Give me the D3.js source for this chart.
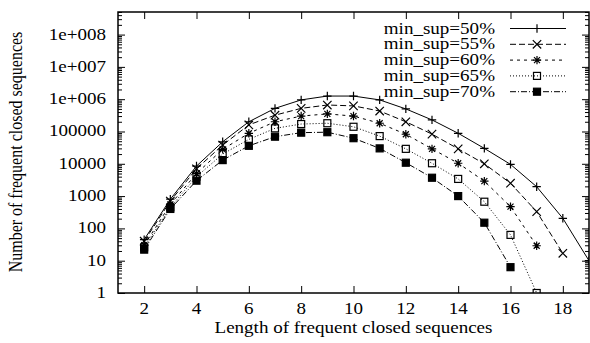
<!DOCTYPE html>
<html>
<head>
<meta charset="utf-8">
<script src="https://cdn.jsdelivr.net/npm/d3@7"></script>
<style>
  body { margin: 0; background: #fff; }
  svg { display: block; }
</style>
</head>
<body>
<div id="vis"></div>
<script>
// lengths of frequent closed sequences
const lengths = [2, 3, 4, 5, 6, 7, 8, 9, 10, 11, 12, 13, 14, 15, 16, 17, 18, 19];

// number of frequent closed sequences, one array per min_sup
const sup50 = [45, 800, 8500, 48000, 200000, 520000, 950000, 1250000, 1250000, 950000, 500000, 228000, 88000, 30000, 9600, 1950, 205, 10];
const sup55 = [40, 700, 7000, 38000, 160000, 320000, 520000, 660000, 620000, 430000, 200000, 83000, 29000, 10000, 2500, 330, 17];
const sup60 = [30, 550, 5000, 28000, 88000, 200000, 300000, 350000, 300000, 180000, 82000, 29000, 10400, 2900, 470, 29];
const sup65 = [26, 450, 4000, 20000, 57000, 125000, 170000, 180000, 140000, 72000, 29000, 10400, 3400, 670, 63, 1];
const sup70 = [22, 400, 3000, 13000, 36000, 69000, 92000, 95000, 62000, 30000, 10800, 3700, 1000, 150, 6.3];

const seriesNames = ["min_sup=50%", "min_sup=55%", "min_sup=60%", "min_sup=65%", "min_sup=70%"];
const seriesValues = [sup50, sup55, sup60, sup65, sup70];

const xTicks = [2, 4, 6, 8, 10, 12, 14, 16, 18];
const yTicks = [1, 10, 100, 1000, 10000, 100000, 1e6, 1e7, 1e8];
const yTickLabels = ["1", "10", "100", "1000", "10000", "100000", "1e+006", "1e+007", "1e+008"];

const width = 590, height = 343;
const margin = { top: 12, right: 1, bottom: 50, left: 118 };
const sx = 1.19; // the original picture is a bit stretched sideways
const serif = "'Liberation Serif', 'Times New Roman', Times, 'DejaVu Serif', serif";

const svg = d3.select("#vis").append("svg")
    .attr("width", width)
    .attr("height", height);

const x = d3.scaleLinear()
    .domain([1, 19])
    .range([margin.left, width - margin.right]);

const y = d3.scaleLog()
    .domain([1, 5e8])
    .range([height - margin.bottom, margin.top]);

const styles = [
    { dash: null, mark: "plus" },
    { dash: "6,3", mark: "cross" },
    { dash: "3,4", mark: "star" },
    { dash: "1,2", mark: "box" },
    { dash: "6,2,1,2", mark: "fbox" }
];

function marker(g, kind, cx, cy) {
    const s = 4.2;
    let d;
    if (kind === "plus") d = `M${cx - s},${cy}H${cx + s}M${cx},${cy - s}V${cy + s}`;
    if (kind === "cross") d = `M${cx - s},${cy - s}L${cx + s},${cy + s}M${cx - s},${cy + s}L${cx + s},${cy - s}`;
    if (kind === "star") d = `M${cx - s},${cy}H${cx + s}M${cx},${cy - s}V${cy + s}M${cx - 3},${cy - 3}L${cx + 3},${cy + 3}M${cx - 3},${cy + 3}L${cx + 3},${cy - 3}`;
    if (d) {
        g.append("path").attr("d", d).attr("stroke", "#000").attr("stroke-width", 1.2).attr("fill", "none");
        return;
    }
    g.append("rect")
        .attr("x", cx - 3.5).attr("y", cy - 3.5)
        .attr("width", 7).attr("height", 7)
        .attr("fill", kind === "fbox" ? "#000" : "none")
        .attr("stroke", "#000")
        .attr("stroke-width", 1.2);
}

function stretchText(sel, px, py, str, anchor) {
    return sel.append("text")
        .attr("transform", `translate(${px},${py}) scale(${sx},1)`)
        .attr("text-anchor", anchor)
        .attr("font-family", serif)
        .attr("font-size", 16)
        .attr("fill", "#000")
        .text(str);
}

svg.append("defs").append("clipPath").attr("id", "plotclip")
    .append("rect")
    .attr("x", margin.left).attr("y", margin.top)
    .attr("width", width - margin.right - margin.left)
    .attr("height", height - margin.bottom - margin.top);

// minor log ticks
const minor = [];
for (let e = 0; e <= 8; e++) {
    for (let m = 2; m <= 9; m++) {
        const v = m * Math.pow(10, e);
        if (v <= 5e8) minor.push(v);
    }
}

const tickStyle = g => g
    .call(g => g.select(".domain").remove())
    .call(g => g.selectAll("line").attr("stroke", "#000").attr("stroke-width", 1));

svg.append("g").attr("transform", `translate(${margin.left},0)`)
    .call(d3.axisLeft(y).tickValues(minor).tickSize(-4).tickFormat(""))
    .call(tickStyle);
svg.append("g").attr("transform", `translate(${width - margin.right},0)`)
    .call(d3.axisRight(y).tickValues(minor).tickSize(-4).tickFormat(""))
    .call(tickStyle);

svg.append("g").attr("transform", `translate(${margin.left},0)`)
    .call(d3.axisLeft(y).tickValues(yTicks).tickSize(-7).tickFormat(""))
    .call(tickStyle);
svg.append("g").attr("transform", `translate(${width - margin.right},0)`)
    .call(d3.axisRight(y).tickValues(yTicks).tickSize(-7).tickFormat(""))
    .call(tickStyle);

svg.append("g").attr("transform", `translate(0,${height - margin.bottom})`)
    .call(d3.axisBottom(x).tickValues(xTicks).tickSize(-7).tickFormat(""))
    .call(tickStyle);
svg.append("g").attr("transform", `translate(0,${margin.top})`)
    .call(d3.axisTop(x).tickValues(xTicks).tickSize(-7).tickFormat(""))
    .call(tickStyle);

// tick labels
yTicks.forEach((v, i) => {
    stretchText(svg, margin.left - 12, y(v) + 5, yTickLabels[i], "end");
});
xTicks.forEach(v => {
    stretchText(svg, x(v), height - margin.bottom + 21, String(v), "middle");
});

// border
svg.append("rect")
    .attr("x", margin.left).attr("y", margin.top)
    .attr("width", width - margin.right - margin.left)
    .attr("height", height - margin.bottom - margin.top)
    .attr("fill", "none")
    .attr("stroke", "#000")
    .attr("stroke-width", 1.5);

// series
const line = d3.line()
    .x(d => x(d[0]))
    .y(d => y(d[1]));

const plot = svg.append("g").attr("clip-path", "url(#plotclip)");

seriesValues.forEach((vals, i) => {
    const pts = vals.map((v, j) => [lengths[j], v]);
    plot.append("path")
        .attr("d", line(pts))
        .attr("fill", "none")
        .attr("stroke", "#000")
        .attr("stroke-width", 1)
        .attr("stroke-dasharray", styles[i].dash);
    pts.forEach(p => marker(plot, styles[i].mark, x(p[0]), y(p[1])));
});

// legend
const legend = svg.append("g");
seriesNames.forEach((name, i) => {
    const ly = 28.5 + i * 15.8;
    stretchText(legend, 495, ly + 5, name, "end");
    legend.append("line")
        .attr("x1", 510).attr("x2", 566)
        .attr("y1", ly).attr("y2", ly)
        .attr("stroke", "#000")
        .attr("stroke-width", 1)
        .attr("stroke-dasharray", styles[i].dash);
    marker(legend, styles[i].mark, 537, ly);
});

// axis titles
stretchText(svg, (margin.left + width - margin.right) / 2, 333, "Length of frequent closed sequences", "middle");

svg.append("text")
    .attr("transform", `translate(22,152) rotate(-90) scale(1,${sx})`)
    .attr("text-anchor", "middle")
    .attr("font-family", serif)
    .attr("font-size", 16)
    .attr("fill", "#000")
    .text("Number of frequent closed sequences");
</script>
</body>
</html>
